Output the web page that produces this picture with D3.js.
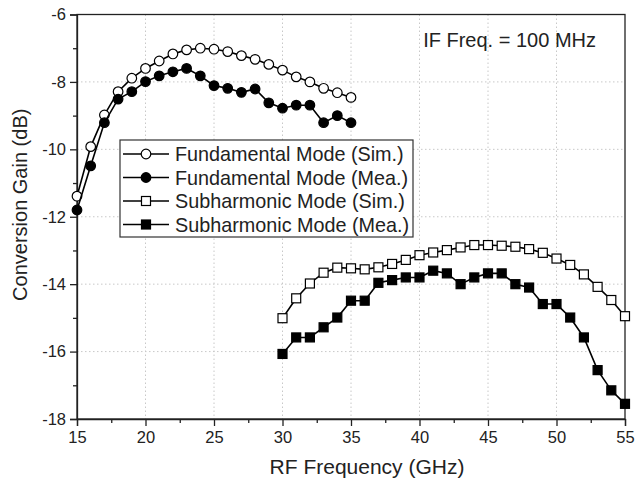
<!DOCTYPE html>
<html>
<head>
<meta charset="utf-8">
<script src="https://cdn.jsdelivr.net/npm/d3@7"></script>
<style>
  body { margin: 0; background: #fff; }
  svg { font-family: "Liberation Sans", Arial, sans-serif; }
</style>
</head>
<body>
<div id="chart"></div>
<script>
// fundamental mode: 15..35 GHz
const fundFreq = d3.range(15, 36);
const fundSim = [-11.39, -9.92, -8.98, -8.29, -7.89, -7.60, -7.38, -7.17, -7.05, -7.00, -7.03,
                 -7.10, -7.22, -7.33, -7.48, -7.65, -7.85, -8.00, -8.19, -8.32, -8.46];
const fundMea = [-11.80, -10.49, -9.21, -8.51, -8.29, -7.99, -7.82, -7.70, -7.60, -7.82, -8.11,
                 -8.19, -8.31, -8.21, -8.62, -8.78, -8.69, -8.69, -9.21, -9.00, -9.21];
// subharmonic mode: 30..55 GHz
const subFreq = d3.range(30, 56);
const subSim = [-15.01, -14.42, -13.98, -13.66, -13.51, -13.53, -13.56, -13.50, -13.40, -13.28,
                -13.14, -13.06, -12.99, -12.91, -12.84, -12.84, -12.86, -12.89, -12.96, -13.07,
                -13.24, -13.43, -13.71, -14.08, -14.47, -14.95];
const subMea = [-16.07, -15.58, -15.58, -15.28, -14.99, -14.49, -14.49, -13.96, -13.88, -13.80,
                -13.80, -13.60, -13.68, -14.00, -13.80, -13.68, -13.68, -14.00, -14.10, -14.59,
                -14.59, -14.99, -15.58, -16.55, -17.15, -17.55];

const xTicks = [15, 20, 25, 30, 35, 40, 45, 50, 55];
const yTicks = [-6, -8, -10, -12, -14, -16, -18];

const seriesNames = ["Fundamental Mode (Sim.)", "Fundamental Mode (Mea.)",
                     "Subharmonic Mode (Sim.)", "Subharmonic Mode (Mea.)"];

const width = 635, height = 483;
const margin = {top: 14.5, right: 10, bottom: 64, left: 77};

const svg = d3.select("#chart").append("svg")
    .attr("width", width)
    .attr("height", height);

const x = d3.scaleLinear().domain([15, 55]).range([margin.left, width - margin.right]);
const y = d3.scaleLinear().domain([-18, -6]).range([height - margin.bottom, margin.top]);

// grid
svg.append("g")
  .selectAll("line")
  .data(xTicks.slice(1, -1))
  .join("line")
    .attr("x1", d => x(d)).attr("x2", d => x(d))
    .attr("y1", y(-6)).attr("y2", y(-18))
    .attr("stroke", "#c8c8c8").attr("stroke-dasharray", "1.5,2.5");
svg.append("g")
  .selectAll("line")
  .data(yTicks.slice(1, -1))
  .join("line")
    .attr("y1", d => y(d)).attr("y2", d => y(d))
    .attr("x1", x(15)).attr("x2", x(55))
    .attr("stroke", "#c8c8c8").attr("stroke-dasharray", "1.5,2.5");

// axes
svg.append("g")
    .attr("transform", `translate(0,${y(-18)})`)
    .call(d3.axisBottom(x).tickValues(xTicks).tickSize(7).tickPadding(5).tickFormat(d3.format("d")));
svg.append("g")
    .attr("transform", `translate(0,${y(-18)})`)
    .call(d3.axisBottom(x).tickValues(d3.range(17.5, 55, 5)).tickSize(4).tickFormat(""))
    .call(g => g.select(".domain").remove());
svg.append("g")
    .attr("transform", `translate(${x(15)},0)`)
    .call(d3.axisLeft(y).tickValues(yTicks).tickSize(7).tickPadding(4).tickFormat(d => d));
svg.append("g")
    .attr("transform", `translate(${x(15)},0)`)
    .call(d3.axisLeft(y).tickValues(d3.range(-17, -6, 2)).tickSize(4).tickFormat(""))
    .call(g => g.select(".domain").remove());

svg.selectAll(".tick text").attr("font-size", 16.5).attr("fill", "#222")
    .attr("font-family", "Liberation Sans, Arial, sans-serif");
svg.selectAll(".tick line, .domain").attr("stroke", "#222").attr("stroke-width", 1.3);

// frame
svg.append("rect")
    .attr("x", x(15)).attr("y", y(-6))
    .attr("width", x(55) - x(15)).attr("height", y(-18) - y(-6))
    .attr("fill", "none").attr("stroke", "#222").attr("stroke-width", 1.3);

// axis titles
svg.append("text")
    .attr("x", (x(15) + x(55)) / 2 + 16).attr("y", 474)
    .attr("text-anchor", "middle").attr("font-size", 21).attr("fill", "#222")
    .text("RF Frequency (GHz)");
svg.append("text")
    .attr("transform", `translate(27,${(y(-6) + y(-18)) / 2 - 12}) rotate(-90)`)
    .attr("text-anchor", "middle").attr("font-size", 20).attr("fill", "#222")
    .text("Conversion Gain (dB)");

svg.append("text")
    .attr("x", 596).attr("y", 47)
    .attr("text-anchor", "end").attr("font-size", 20).attr("fill", "#222")
    .text("IF Freq. = 100 MHz");

// series
const line = d3.line().x(d => x(d[0])).y(d => y(d[1]));
const series = [
  {name: seriesNames[0], pts: d3.zip(fundFreq, fundSim), shape: "circle", fill: "#fff"},
  {name: seriesNames[1], pts: d3.zip(fundFreq, fundMea), shape: "circle", fill: "#000"},
  {name: seriesNames[2], pts: d3.zip(subFreq, subSim), shape: "square", fill: "#fff"},
  {name: seriesNames[3], pts: d3.zip(subFreq, subMea), shape: "square", fill: "#000"}
];

function drawMarker(g, shape, fill, cx, cy) {
  if (shape === "circle") {
    g.append("circle").attr("cx", cx).attr("cy", cy).attr("r", 4.8)
      .attr("fill", fill).attr("stroke", "#000").attr("stroke-width", 1.2);
  } else {
    g.append("rect").attr("x", cx - 4.5).attr("y", cy - 4.5).attr("width", 9).attr("height", 9)
      .attr("fill", fill).attr("stroke", "#000").attr("stroke-width", 1.2);
  }
}

series.forEach(s => {
  const g = svg.append("g");
  g.append("path").datum(s.pts)
    .attr("fill", "none").attr("stroke", "#000").attr("stroke-width", 1.6)
    .attr("d", line);
  s.pts.forEach(p => drawMarker(g, s.shape, s.fill, x(p[0]), y(p[1])));
});

// legend
const lg = svg.append("g").attr("transform", "translate(120,140)");
lg.append("rect").attr("width", 293).attr("height", 97)
  .attr("fill", "#fff").attr("stroke", "#333").attr("stroke-width", 1.2);
series.forEach((s, i) => {
  const yy = 14 + i * 23.5;
  lg.append("line").attr("x1", 3).attr("x2", 49).attr("y1", yy).attr("y2", yy)
    .attr("stroke", "#000").attr("stroke-width", 1.6);
  drawMarker(lg, s.shape, s.fill, 26, yy);
  lg.append("text").attr("x", 55).attr("y", yy + 7)
    .attr("font-size", 19.8).attr("fill", "#222").text(s.name);
});
</script>
</body>
</html>
